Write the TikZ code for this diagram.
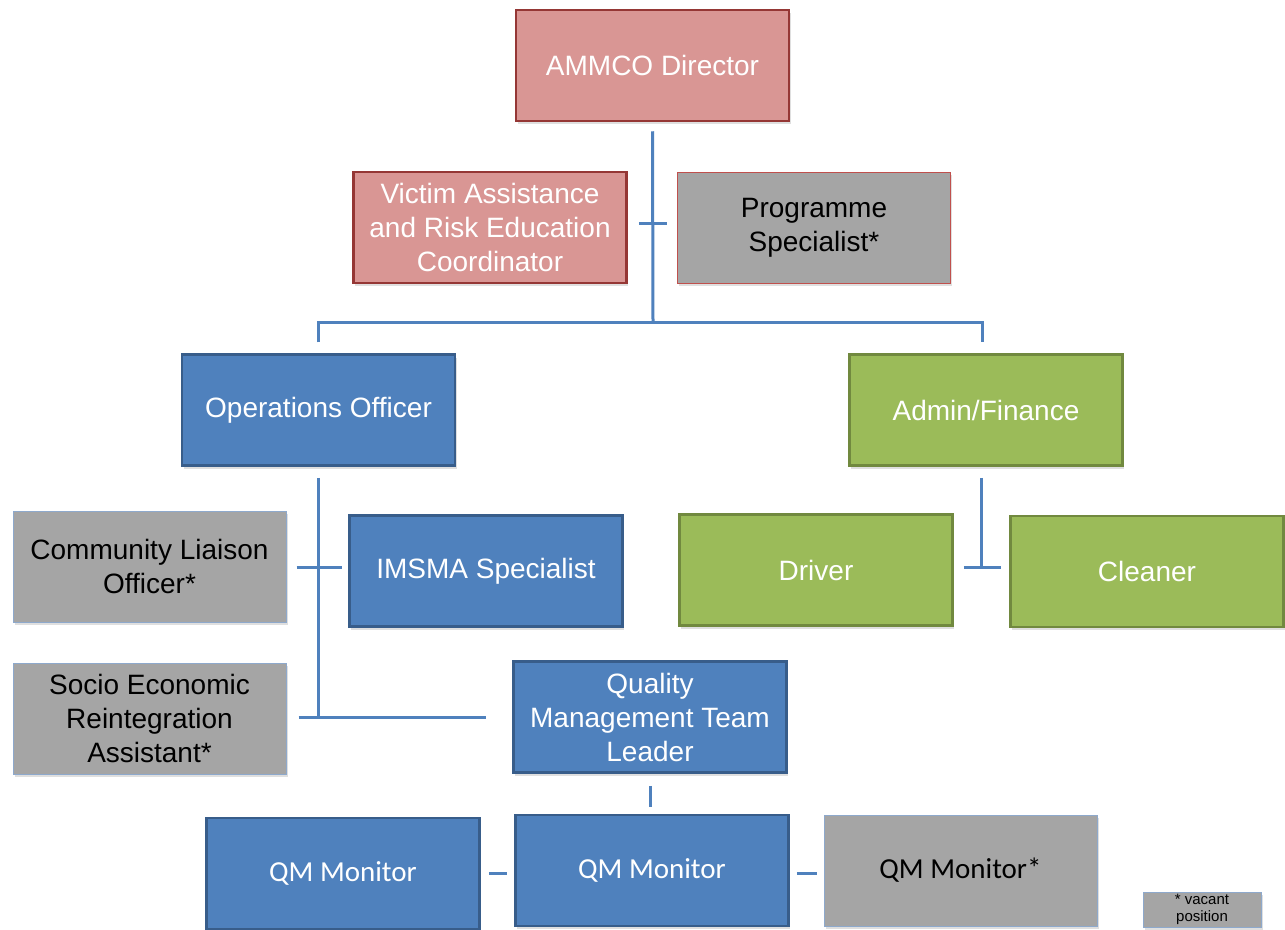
\documentclass[tikz,border=0pt]{standalone}
\usepackage{fontspec}
\setmainfont{Liberation Sans}
\newfontfamily\calfont{Carlito}
\usetikzlibrary{shadows}

\definecolor{pinkfill}{HTML}{D99694}
\definecolor{pinkline}{HTML}{953735}
\definecolor{greyfill}{HTML}{A5A5A5}
\definecolor{bluefill}{HTML}{4F81BD}
\definecolor{blueline}{HTML}{385D8A}
\definecolor{greenfill}{HTML}{9BBB59}
\definecolor{greenline}{HTML}{71893F}
\definecolor{paleblue}{HTML}{8EA9CC}
\definecolor{palered}{HTML}{C0504D}

\begin{document}
\begin{tikzpicture}[x=1pt, y=-1pt,
  post/.style={rectangle, minimum width=273pt, minimum height=111pt, inner sep=2pt,
    align=center, font=\fontsize{28}{34}\selectfont,
    drop shadow={shadow xshift=1.5pt, shadow yshift=-3pt, opacity=0.25}},
  pinkbox/.style={post, fill=pinkfill, draw=pinkline, line width=2.5pt, text=white},
  bluebox/.style={post, fill=bluefill, draw=blueline, line width=2.5pt, text=white},
  greenbox/.style={post, fill=greenfill, draw=greenline, line width=2.5pt, text=white},
  greybox/.style={post, fill=greyfill, draw=paleblue, line width=1pt, text=black},
  link/.style={draw=bluefill, line width=3pt}]
\useasboundingbox[fill=white] (0,0) rectangle (1285,929);

% Director and staff
\node[pinkbox] (dir) at (652.5,65.5) {AMMCO Director};
\node[pinkbox] (victim) at (490,227.5) {Victim Assistance\\and Risk Education\\Coordinator};
\node[greybox, draw=palered] (progspec) at (814,227.5) {Programme\\Specialist*};
\coordinate (hub) at (653,322);

\draw[link] ([yshift=-9pt]dir.south) -- (hub);
\draw[link] ([xshift=11pt]victim.east |- 0,223) -- ([xshift=-10pt]progspec.west |- 0,223);

% Operations and admin
\node[bluebox] (ops) at (318.5,410) {Operations Officer};
\node[greenbox] (admin) at (986,410) {Admin/Finance};

\draw[link] ([yshift=11pt]ops.north) |- (hub) -| ([xshift=-4pt,yshift=11pt]admin.north);

% Operations staff
\node[greybox] (liaison) at (149.5,566.5) {Community Liaison\\Officer*};
\node[bluebox] (imsma) at (486,571) {IMSMA Specialist};
\node[greybox] (socio) at (149.5,718.5) {Socio Economic\\Reintegration\\Assistant*};
\node[bluebox] (qmlead) at (650,717) {Quality\\Management Team\\Leader};

\draw[link] ([yshift=-11pt]ops.south) -- (ops.south |- socio.east);
\draw[link] ([xshift=10pt]liaison.east |- 0,567) -- ([xshift=-6pt]imsma.west |- 0,567);
\draw[link] ([xshift=12pt]socio.east |- 0,717) -- ([xshift=-26pt]qmlead.west |- 0,717);

% Admin staff
\node[greenbox] (driver) at (816,570) {Driver};
\node[greenbox] (cleaner) at (1147,571.5) {Cleaner};

\draw[link] ([xshift=-5pt,yshift=-11pt]admin.south) -- ([xshift=-5pt]admin.south |- 0,567);
\draw[link] ([xshift=10pt]driver.east |- 0,567) -- ([xshift=-8pt]cleaner.west |- 0,567);

% QM monitors
\node[bluebox, font=\calfont\fontsize{29}{34}\selectfont] (qm1) at (343,873.5) {QM Monitor};
\node[bluebox, font=\calfont\fontsize{29}{34}\selectfont] (qm2) at (652,870.5) {QM Monitor};
\node[greybox, font=\calfont\fontsize{29}{34}\selectfont] (qm3) at (960.5,870.5) {QM Monitor*};

\draw[link] ([yshift=-12pt]qmlead.south) -- ([xshift=-2pt,yshift=7pt]qm2.north);
\draw[link] ([xshift=8pt]qm1.east |- 0,873) -- ([xshift=-7pt]qm2.west |- 0,873);
\draw[link] ([xshift=7pt]qm2.east |- 0,873) -- ([xshift=-7pt]qm3.west |- 0,873);

% Legend
\node[greybox, minimum width=118pt, minimum height=35pt, inner sep=0pt,
  font=\fontsize{15}{17}\selectfont] (vacant) at (1202,909.5) {* vacant\\position};
\end{tikzpicture}
\end{document}
